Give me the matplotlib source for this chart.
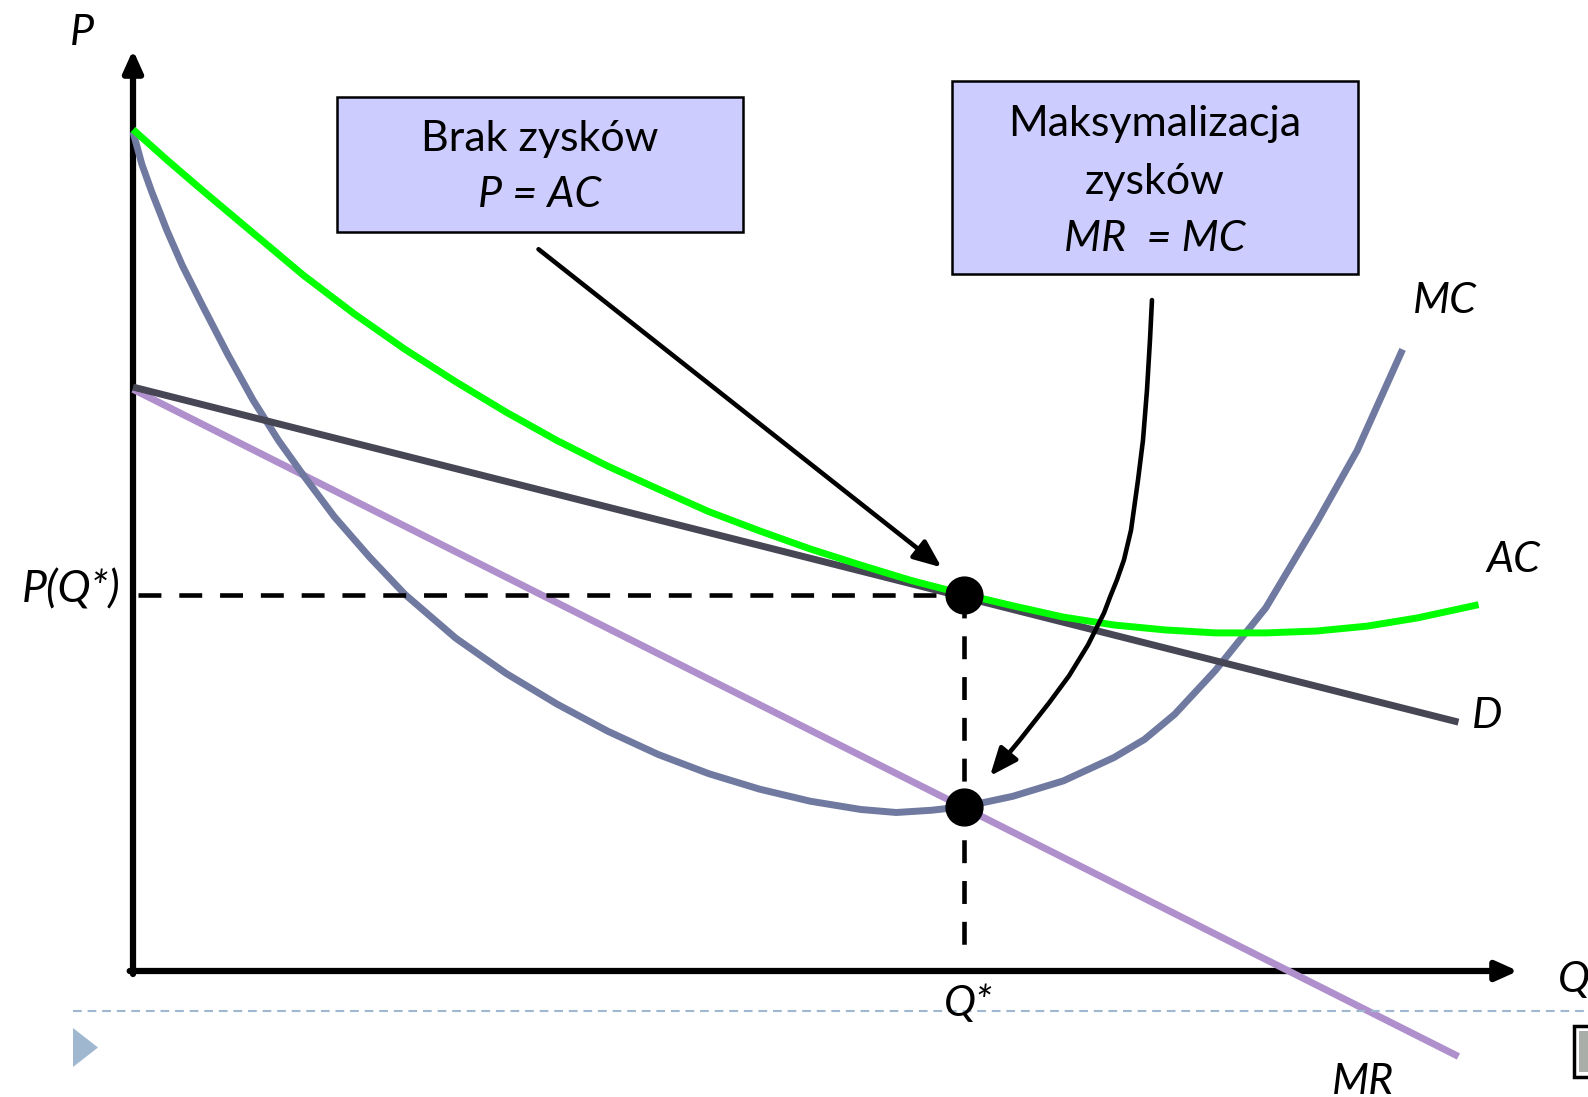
import numpy as np
import matplotlib
matplotlib.use("Agg")
import matplotlib.pyplot as plt
from matplotlib.patches import FancyArrowPatch, Rectangle, Polygon
from matplotlib.path import Path

# ---------------- data (Q scaled so that Q* = 100, P scaled so that P(Q*) = 100)
q_mc = [0, 1.06, 2.28, 4.10, 5.93, 8.37, 11.42, 14.46, 17.51, 20.56, 24.21, 28.48,
        32.74, 38.84, 44.93, 51.02, 57.12, 63.21, 69.30, 75.40, 81.49, 87.58, 91.85,
        96.12, 100.14, 105.87, 111.96, 118.05, 121.71, 125.36, 130.24, 136.33,
        142.43, 147.30, 152.78]
p_mc = [222.9, 214.3, 206.8, 196.6, 187.4, 176.7, 163.7, 151.6, 140.9, 131.5, 120.7,
        109.9, 100.0, 88.4, 79.0, 70.9, 63.7, 57.5, 52.4, 48.3, 45.1, 42.9, 42.1,
        42.7, 43.7, 46.4, 50.5, 56.7, 61.5, 68.2, 79.8, 96.5, 119.1, 138.2, 165.1]
q_ac = [0, 4.10, 8.37, 14.46, 20.56, 26.65, 32.74, 38.84, 44.93, 51.02, 57.12, 63.21,
        69.30, 75.40, 81.49, 87.58, 93.68, 100.14, 105.87, 111.96, 118.05, 124.15,
        130.24, 136.33, 142.43, 148.52, 154.61, 161.92]
p_ac = [223.5, 215.4, 207.3, 196.0, 184.7, 174.5, 165.1, 156.5, 148.4, 140.9, 134.1,
        128.0, 122.0, 116.9, 112.1, 107.8, 103.7, 100.0, 97.0, 94.0, 91.9, 90.6, 89.8,
        89.8, 90.3, 91.6, 93.8, 97.3]
q_d = [0, 159.5]
p_d = [155.1, 66.1]
q_mr = [0, 159.5]
p_mr = [154.5, -22.7]
q_star = 100.0
p_star = 100.0
mc_star = 43.6

# annotation arrow paths (data units)
arrow1_from = (48.8, 191.7)
arrow1_to = (97.3, 107.2)
arrow2_q = [122.62, 122.38, 122.02, 121.54, 120.94, 120.10, 119.25, 118.41, 117.57,
            116.85, 114.92, 112.64, 110.23, 106.74, 103.13]
arrow2_p = [178.2, 167.6, 154.3, 141.0, 130.4, 117.1, 109.2, 103.9, 99.3, 95.1, 86.6,
            78.4, 71.2, 61.4, 51.8]

# ---------------- figure
W, H = 1588, 1097
X0, Y0, SX, SY = 133.0, 971.0, 8.31, 3.765   # pixel origin and pixels per unit

plt.rcParams["font.family"] = ["Lato", "DejaVu Sans"]
fig = plt.figure(figsize=(W / 100, H / 100), dpi=100)
ax = fig.add_axes([0, 0, 1, 1])
ax.set_xlim((0 - X0) / SX, (W - X0) / SX)
ax.set_ylim((Y0 - H) / SY, Y0 / SY)
ax.axis("off")


def fp(x, y):
    return (x / W, 1 - y / H)


def ftext(x, y, s, **kw):
    kw.setdefault("fontsize", 31)
    kw.setdefault("style", "italic")
    kw.setdefault("va", "baseline")
    fig.text(*fp(x, y), s, **kw)


# axes
axis_arrow = dict(arrowstyle="-|>,head_length=1.0,head_width=0.45",
                  lw=4.5, color="black", shrinkA=0, shrinkB=0, mutation_scale=13)
ax.annotate("", xy=(0, (Y0 - 50) / SY), xytext=(0, -0.8), arrowprops=axis_arrow)
ax.annotate("", xy=((1518 - X0) / SX, 0), xytext=(-0.4, 0), arrowprops=axis_arrow)

# curves
lw = 5.0
ax.plot(q_mr, p_mr, color="#B090CC", lw=lw, solid_capstyle="butt", zorder=3)
ax.plot(q_mc, p_mc, color="#7079A0", lw=lw, solid_capstyle="butt",
        solid_joinstyle="round", zorder=4)
ax.plot(q_d, p_d, color="#464655", lw=lw, solid_capstyle="butt", zorder=5)
ax.plot(q_ac, p_ac, color="#00FF00", lw=lw, solid_capstyle="butt",
        solid_joinstyle="round", zorder=6)

# dashed guides
ax.plot([0.6, q_star], [p_star, p_star], color="black", lw=3.3,
        dashes=(5.0, 3.9), zorder=7)
ax.plot([q_star, q_star], [p_star, 4.2], color="black", lw=3.3,
        dashes=(5.0, 3.9), zorder=7)

# equilibrium points
ax.plot([q_star, q_star], [p_star, mc_star], "o", color="black",
        markersize=26.5, zorder=9)

# annotation arrows
ann_style = "-|>,head_length=1.2,head_width=0.5"
ax.annotate("", xy=arrow1_to, xytext=arrow1_from,
            arrowprops=dict(arrowstyle=ann_style, lw=3.3, color="black",
                            shrinkA=0, shrinkB=0, mutation_scale=14), zorder=8)
arr2 = FancyArrowPatch(path=Path(np.column_stack([arrow2_q, arrow2_p])),
                       arrowstyle=ann_style, lw=3.3, color="black",
                       mutation_scale=14, zorder=8, joinstyle="round")
ax.add_patch(arr2)

# boxes
for (x1, y1, x2, y2) in [(337, 97, 743, 232), (952, 81, 1358, 274)]:
    fig.add_artist(Rectangle(fp(x1, y2), (x2 - x1) / W, (y2 - y1) / H,
                             transform=fig.transFigure, facecolor="#CCCCFF",
                             edgecolor="black", lw=1.8, zorder=10))

ftext(540, 151, "Brak zysków", ha="center", style="normal", zorder=11)
ftext(540, 207, "P = AC", ha="center", zorder=11)
ftext(1155, 136, "Maksymalizacja", ha="center", style="normal", zorder=11)
ftext(1155, 194, "zysków", ha="center", style="normal", zorder=11)
ftext(1155, 251, "MR  = MC", ha="center", zorder=11)

# axis and curve labels
ftext(70, 45, "P", ha="left")
ftext(1558, 992, "Q", ha="left")
ftext(121, 602, "P(Q*)", ha="right", fontsize=32)
ftext(968, 1016, "Q*", ha="center")
ftext(1445, 313, "MC", ha="center")
ftext(1513, 572, "AC", ha="center")
ftext(1472, 728, "D", ha="left")
ftext(1332, 1094, "MR", ha="left")

# slide decorations
fig.add_artist(plt.Line2D([73 / W, 1.0], [1 - 1011 / H] * 2, transform=fig.transFigure,
                          color="#A0B8CF", lw=1.5, dashes=(4.2, 2.8)))
fig.add_artist(Polygon([fp(73, 1028), fp(98, 1047.5), fp(73, 1067)], closed=True,
                       transform=fig.transFigure, facecolor="#A0B8CF", edgecolor="none"))
fig.add_artist(Rectangle(fp(1574, 1077), 30 / W, 51 / H, transform=fig.transFigure,
                         facecolor="white", edgecolor="black", lw=2.5))
fig.add_artist(Rectangle(fp(1579, 1072), 20 / W, 41 / H, transform=fig.transFigure,
                         facecolor="#AAAEA8", edgecolor="none"))

fig.savefig("out.png", dpi=100)
